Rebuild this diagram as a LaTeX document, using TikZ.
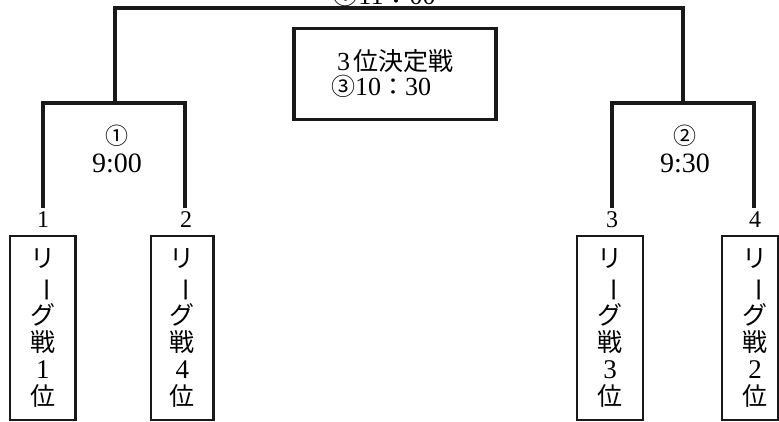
\documentclass[tikz,border=0pt]{standalone}
\usepackage{fontspec}
\usepackage{graphicx}
\setmainfont{Liberation Serif}
\newfontfamily\cjk{Noto Sans CJK JP}
\newcommand{\vbar}{\rotatebox[origin=c]{-90}{\cjk ー}}
\newcommand{\dg}[1]{{\fontsize{27}{27}\selectfont #1}}
\tikzset{
  br/.style={line width=4pt, draw=black!90},
  sbox/.style={draw=black!90, line width=2.5pt, minimum height=184pt, inner sep=0pt,
    align=center, font=\fontsize{25}{27}\selectfont},
  vtext/.style={inner sep=0pt, align=center, font=\fontsize{25}{27}\selectfont},
  cbox/.style={draw=black!90, line width=3.2pt, minimum width=202pt, minimum height=91pt,
    align=left, font=\fontsize{26}{27}\selectfont},
  seed/.style={font=\fontsize{24}{24}\selectfont, inner sep=0pt},
  mtext/.style={align=center, font=\fontsize{28}{28}\selectfont, inner sep=0pt},
}
\begin{document}
\begin{tikzpicture}[x=1pt,y=-1pt]
\useasboundingbox (0,0) rectangle (779,421);
\clip (0,0) rectangle (779,421);

% seed labels
\node[seed] (l1) at (43,220) {1};
\node[seed] (l2) at (186,220) {2};
\node[seed] (l3) at (612,220) {3};
\node[seed] (l4) at (755,220) {4};

\coordinate (t1) at (43,208);
\coordinate (t2) at (185,208);
\coordinate (t3) at (612,208);
\coordinate (t4) at (754,208);
\coordinate (m1) at (115,103);
\coordinate (m2) at (683,103);
\coordinate (top) at (400,8);

% brackets
\draw[br] (t1) |- (t2 |- m1) -- (t2);
\draw[br] (t3) |- (t4 |- m2) -- (t4);
\draw[br] (m1) |- (top) -| (m2);

% match labels
\node[mtext] (g1) at (117,149) {{\cjk\fontsize{23}{24}\selectfont ①}\\9:00};
\node[mtext] (g2) at (685,149) {{\cjk\fontsize{23}{24}\selectfont ②}\\9:30};

% final (cut off at top)
\node[anchor=base, inner sep=0pt, font=\fontsize{26}{27}\selectfont] (fin) at (384,4) {{\cjk ①}11{\cjk ：}00};

% 3rd place box
\node[cbox] (third) at (395,74) {3\hspace{3pt}{\cjk\fontsize{25}{27}\selectfont 位決定戦}\\[-2pt]\hspace*{-6pt}{\cjk\fontsize{24}{27}\selectfont ③}10{\cjk\fontsize{24}{27}\selectfont ：}30};

% team boxes
\node[sbox, minimum width=65.5pt] (b1) at (42.75,328) {{\cjk リ}\\\vbar\\{\cjk グ}\\{\cjk 戦}\\\dg{1}\\{\cjk 位}};
\node[sbox, minimum width=62.5pt] (b2) at (182.25,328) {{\cjk リ}\\\vbar\\{\cjk グ}\\{\cjk 戦}\\\dg{4}\\{\cjk 位}};
\node[sbox, minimum width=66pt] (b3) at (610,328) {{\cjk リ}\\\vbar\\{\cjk グ}\\{\cjk 戦}\\\dg{3}\\{\cjk 位}};
\node[vtext] (b4) at (755,328) {{\cjk リ}\\\vbar\\{\cjk グ}\\{\cjk 戦}\\\dg{2}\\{\cjk 位}};
\draw[draw=black!90, line width=2.5pt] (722,236) rectangle (778,420);
\end{tikzpicture}
\end{document}
